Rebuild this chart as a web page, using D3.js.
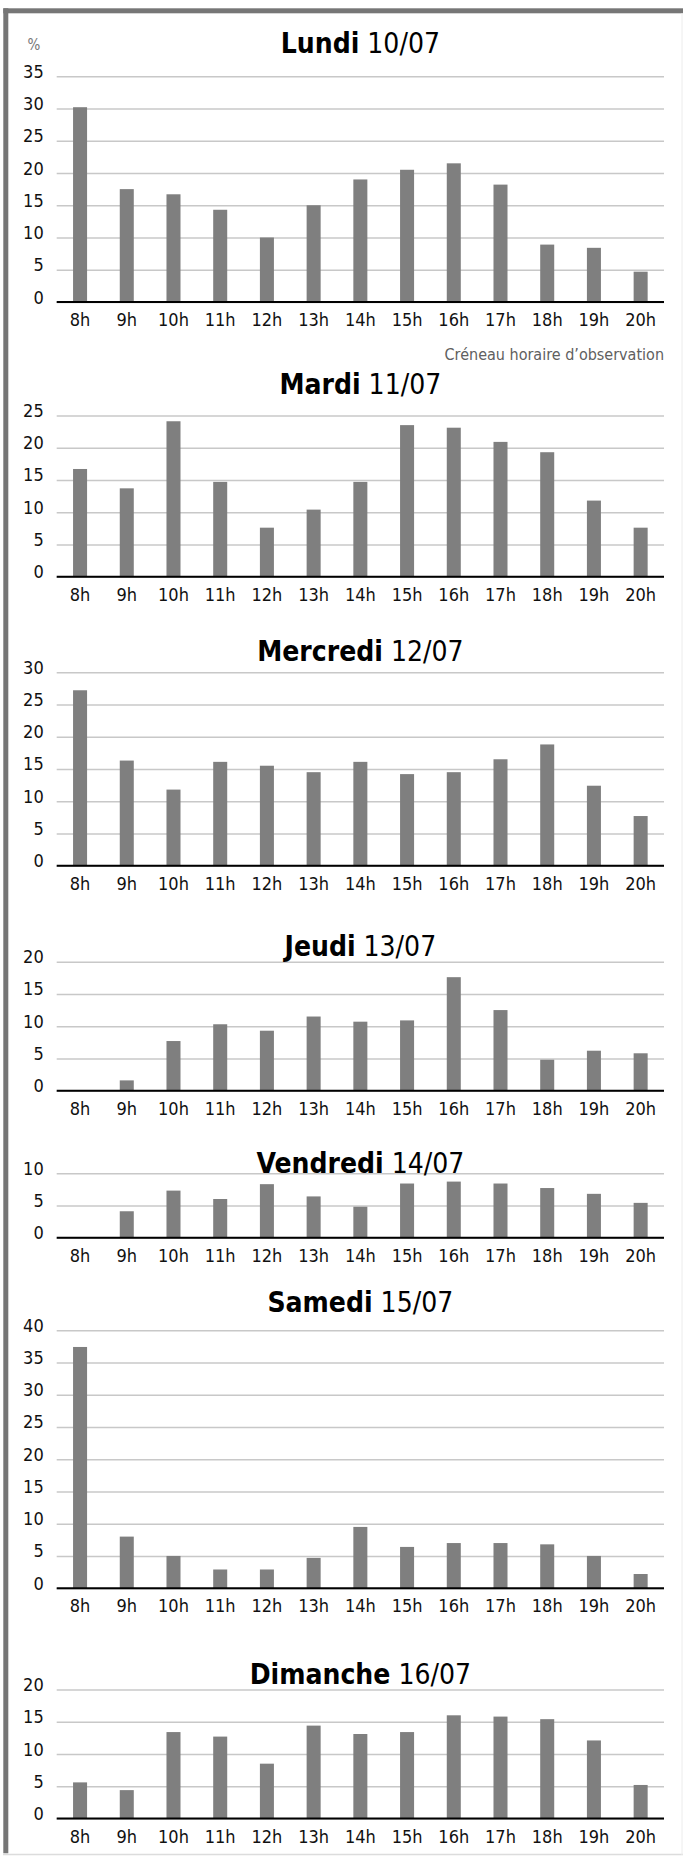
<!DOCTYPE html>
<html><head><meta charset="utf-8">
<script src="https://cdn.jsdelivr.net/npm/d3@7"></script>
<style>
html,body{margin:0;padding:0;background:#fff;}
svg{display:block;}
text{font-family:"DejaVu Sans Condensed","DejaVu Sans",sans-serif;}
</style></head>
<body>
<script>
const hours = ["8h","9h","10h","11h","12h","13h","14h","15h","16h","17h","18h","19h","20h"];
const dayNames = ["Lundi","Mardi","Mercredi","Jeudi","Vendredi","Samedi","Dimanche"];
const dayDates = ["10/07","11/07","12/07","13/07","14/07","15/07","16/07"];
const yMax = [35,25,30,20,10,40,20];
const lundi    = [30.2,17.5,16.7,14.3,10.0,15.0,19.0,20.5,21.5,18.2,8.9,8.4,4.7];
const mardi    = [16.7,13.7,24.1,14.7,7.6,10.4,14.7,23.5,23.1,20.9,19.3,11.8,7.6];
const mercredi = [27.2,16.3,11.8,16.1,15.5,14.5,16.1,14.2,14.5,16.5,18.8,12.4,7.7];
const jeudi    = [0,1.6,7.7,10.3,9.3,11.5,10.7,10.9,17.6,12.5,4.8,6.2,5.8];
const vendredi = [0,4.1,7.3,6.0,8.3,6.4,4.8,8.4,8.7,8.4,7.7,6.8,5.4];
const samedi   = [37.4,8.0,5.0,2.9,2.9,4.7,9.5,6.4,7.0,7.0,6.8,5.0,2.2];
const dimanche = [5.6,4.4,13.4,12.7,8.5,14.4,13.1,13.4,16.0,15.8,15.4,12.1,5.2];
const seriesList = [lundi,mardi,mercredi,jeudi,vendredi,samedi,dimanche];
const unitLabel = "%";
const caption = "Créneau horaire d’observation";

// layout (pixel positions of each panel's zero line)
const zeroY = [302, 576.7, 865.7, 1090.7, 1237.7, 1588.2, 1818.5];
const titleOffset = [-23, -21.6, -11, -6, 0, -18.7, -5.3];
const pxPerUnit = 6.45;
const W = 683, H = 1856;
const left = 56.7, right = 664;
const FONT = '"DejaVu Sans Condensed","DejaVu Sans",sans-serif';

const svg = d3.select("body").append("svg").attr("width", W).attr("height", H);

// frame
svg.append("rect").attr("x",3.3).attr("y",8.3).attr("width",W-3.3).attr("height",5).attr("fill","#767676");
svg.append("rect").attr("x",3.3).attr("y",8.3).attr("width",5).attr("height",1845).attr("fill","#767676");
svg.append("line").attr("x1",3).attr("x2",W).attr("y1",1854.5).attr("y2",1854.5).attr("stroke","#dcdcdc").attr("stroke-width",1.5);
svg.append("line").attr("x1",682).attr("x2",682).attr("y1",13).attr("y2",1855).attr("stroke","#ececec").attr("stroke-width",1);

const x = d3.scaleBand().domain(hours).range([left,right]).paddingInner(0.7).paddingOuter(0.35);

seriesList.forEach((vals, i) => {
  const y0 = zeroY[i];
  const y = d3.scaleLinear().domain([0, yMax[i]]).range([y0, y0 - yMax[i]*pxPerUnit]);
  const g = svg.append("g");
  const ticks = d3.range(0, yMax[i] + 0.001, 5);

  // gridlines
  g.append("g").attr("transform",`translate(${left},0)`)
    .call(d3.axisLeft(y).tickValues(ticks).tickSize(-(right-left)).tickFormat(""))
    .call(s => s.select(".domain").remove())
    .call(s => s.selectAll(".tick line").attr("stroke","#c8c8c8").attr("stroke-width",1.6));

  // title
  const t = g.append("text").attr("x",(left+right)/2).attr("y", y0 - yMax[i]*pxPerUnit + titleOffset[i])
    .attr("text-anchor","middle").attr("font-size",28).attr("fill","#000");
  t.append("tspan").attr("font-weight","bold").text(dayNames[i]);
  t.append("tspan").text(" " + dayDates[i]);

  // bars
  g.selectAll("rect.bar").data(vals).join("rect").attr("class","bar")
    .attr("x",(d,j)=>x(hours[j])).attr("width",x.bandwidth())
    .attr("y",d=>y(d)).attr("height",d=>y(0)-y(d))
    .attr("fill","#7f7f7f");

  // y tick labels
  g.append("g").attr("transform",`translate(${left},0)`)
    .call(d3.axisLeft(y).tickValues(ticks).tickSize(0).tickPadding(13).tickFormat(d3.format("d")))
    .call(s => s.select(".domain").remove())
    .call(s => s.selectAll(".tick text").attr("font-size",18).attr("fill","#111")
      .attr("font-family",FONT).attr("dy","0").attr("y",1));

  // x axis
  g.append("g").attr("transform",`translate(0,${y0})`)
    .call(d3.axisBottom(x).tickSize(0).tickPadding(0))
    .call(s => s.select(".domain").attr("stroke","#000").attr("stroke-width",2).attr("d",`M${left},0H${right}`))
    .call(s => s.selectAll(".tick text").attr("font-size",18).attr("fill","#111")
      .attr("font-family",FONT).attr("dy","0").attr("y",24));

  if (i === 0) {
    g.append("text").attr("x",34).attr("y",50).attr("text-anchor","middle")
      .attr("font-size",15).attr("fill","#777").text(unitLabel);
    g.append("text").attr("x",right).attr("y",y0+58).attr("text-anchor","end")
      .attr("font-size",16).attr("fill","#606060").text(caption);
  }
});
</script>
</body></html>
